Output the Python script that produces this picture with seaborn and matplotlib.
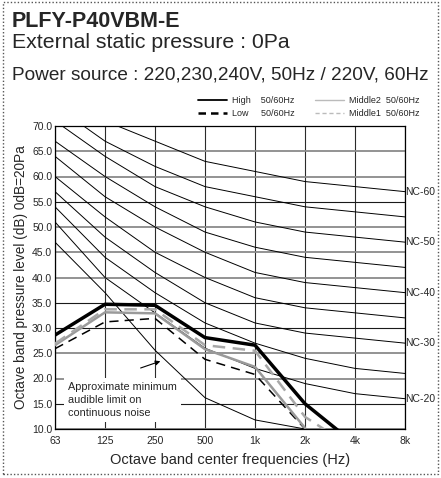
import numpy as np
import matplotlib
matplotlib.use('Agg')
import matplotlib.pyplot as plt
import seaborn as sns
from matplotlib.lines import Line2D
from matplotlib.patches import Rectangle

# octave bands
bands = ['63', '125', '250', '500', '1k', '2k', '4k', '8k']

# measured sound levels (dB), values below the axis are left out / clipped
high = [28.6, 34.7, 34.5, 28.1, 26.6, 15.0, 7.0, np.nan]
low = [25.9, 31.2, 31.9, 23.8, 20.8, 10.0, np.nan, np.nan]
middle2 = [26.6, 33.1, 32.9, 25.8, 22.3, 10.2, np.nan, np.nan]
middle1 = [26.9, 33.7, 33.7, 26.6, 25.5, 12.4, 6.0, np.nan]

# NC reference curves
nc20 = [51, 40, 33, 26, 22, 19, 17, 16]
nc25 = [54, 44, 37, 31, 27, 24, 22, 21]
nc30 = [57, 48, 41, 35, 31, 29, 28, 27]
nc35 = [60, 52, 45, 40, 36, 34, 33, 32]
nc40 = [64, 56, 50, 45, 41, 39, 38, 37]
nc45 = [67, 60, 54, 49, 46, 44, 43, 42]
nc50 = [71, 64, 58, 54, 51, 49, 48, 47]
nc55 = [74, 67, 62, 58, 56, 54, 53, 52]
nc60 = [77, 71, 67, 63, 61, 59, 58, 57]
audible_limit = [47, 37, 25.6, 16.2, 11.8, 10.0, np.nan, np.nan]

y_ticks = [10, 15, 20, 25, 30, 35, 40, 45, 50, 55, 60, 65, 70]

sns.set_style('white')
plt.rcParams['font.family'] = ['Liberation Sans', 'DejaVu Sans']

W, H = 441, 478
fig = plt.figure(figsize=(W / 100, H / 100), dpi=100)
ax = fig.add_axes([55 / W, 1 - 429 / H, 350 / W, 303 / H])
x = np.arange(len(bands))

# grid: a few rows are drawn dark, the rest grey
ax.set_yticks(y_ticks)
ax.set_yticklabels([f'{v:.1f}' for v in y_ticks])
ax.set_xticks(x)
ax.set_xticklabels(bands)
ax.grid(True, zorder=0)
dark_rows = (15, 30, 35, 55)
for val, gl in zip(y_ticks, ax.yaxis.get_gridlines()):
    if val in dark_rows:
        gl.set_color('#1a1a1a'); gl.set_linewidth(0.8)
    else:
        gl.set_color('#8a8a8a'); gl.set_linewidth(1.3)
for gl in ax.xaxis.get_gridlines():
    gl.set_color('#2b2b2b'); gl.set_linewidth(0.8)

nc_curves = [(20, nc20), (25, nc25), (30, nc30), (35, nc35), (40, nc40),
             (45, nc45), (50, nc50), (55, nc55), (60, nc60)]
for level, vals in nc_curves:
    sns.lineplot(x=x, y=vals, ax=ax, color='black', lw=0.7, zorder=2)
    if level % 10 == 0:
        ax.text(x[-1], vals[-1], f'NC-{level}', ha='left', va='center',
                fontsize=7.5, clip_on=False)
sns.lineplot(x=x, y=audible_limit, ax=ax, color='black', lw=0.7, zorder=2)

sns.lineplot(x=x, y=low, ax=ax, color='black', lw=1.1, linestyle=(0, (6, 4)), zorder=4)
sns.lineplot(x=x, y=middle2, ax=ax, color='#9a9a9a', lw=1.8, zorder=4)
sns.lineplot(x=x, y=middle1, ax=ax, color='#a8a8a8', lw=1.8, linestyle=(0, (5, 3)), zorder=4)
sns.lineplot(x=x, y=high, ax=ax, color='black', lw=2.5, zorder=5)

ax.set_xlim(0, 7)
ax.set_ylim(10, 70)

ax.text(0.26, 15.7, 'Approximate minimum\naudible limit on\ncontinuous noise',
        fontsize=7.8, ha='left', va='center', linespacing=1.35, zorder=6,
        bbox=dict(facecolor='white', edgecolor='none', pad=3))
ax.annotate('', xy=(2.16, 23.6), xytext=(1.66, 21.9),
            arrowprops=dict(arrowstyle='-|>', color='black', lw=0.8, mutation_scale=7))

ax.tick_params(length=0, labelsize=7.5)
ax.tick_params(axis='y', pad=2)
ax.tick_params(axis='x', pad=5)
for sp in ax.spines.values():
    sp.set_color('black'); sp.set_linewidth(0.9)

ax.set_ylabel('Octave band pressure level (dB) 0dB=20Pa', fontsize=9.8, labelpad=3)
ax.set_xlabel('Octave band center frequencies (Hz)', fontsize=10.5, labelpad=5)

fig.text(12 / W, 1 - 27 / H, 'PLFY-P40VBM-E', fontsize=15.5, fontweight='bold', va='baseline')
fig.text(12 / W, 1 - 48 / H, 'External static pressure : 0Pa', fontsize=15.3, va='baseline')
fig.text(12 / W, 1 - 80 / H, 'Power source : 220,230,240V, 50Hz / 220V, 60Hz', fontsize=13.7, va='baseline')

handles = [Line2D([], [], color='black', lw=1.3),
           Line2D([], [], color='black', lw=1.8, linestyle=(0, (3, 2))),
           Line2D([], [], color='#bbbbbb', lw=1.0),
           Line2D([], [], color='#bbbbbb', lw=1.0, linestyle=(0, (3, 2)))]
labels = ['High    50/60Hz', 'Low     50/60Hz', 'Middle2  50/60Hz', 'Middle1  50/60Hz']
fig.legend(handles, labels, ncol=2, loc='upper left', bbox_to_anchor=(198 / W, 1 - 96 / H),
           frameon=False, fontsize=6.5, handlelength=3.2, handletextpad=0.6,
           columnspacing=2.2, labelspacing=0.45, borderpad=0, borderaxespad=0)

fig.patches.append(Rectangle((3 / W, 1 - 474 / H), 435 / W, 472 / H, transform=fig.transFigure,
                             fill=False, edgecolor='#555555', lw=1, linestyle=(0, (1, 1.5))))

fig.savefig('out.png', dpi=100)
